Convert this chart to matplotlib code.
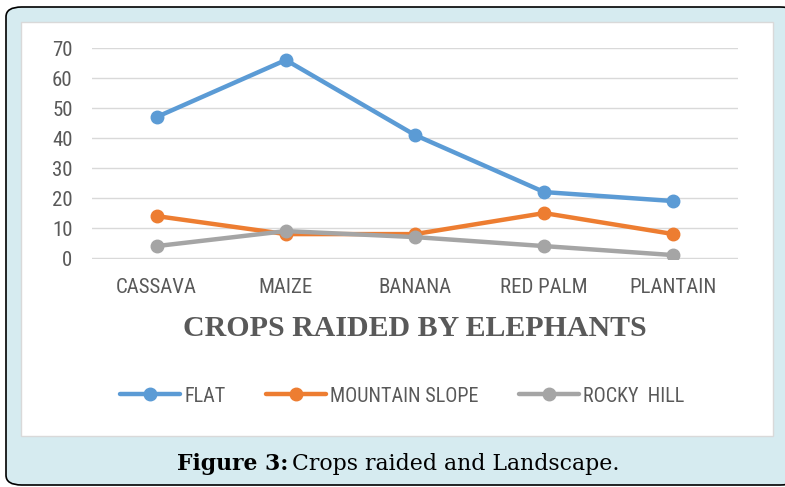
import matplotlib.pyplot as plt
from matplotlib import font_manager
from matplotlib.patches import FancyBboxPatch, Rectangle

crops = ['CASSAVA', 'MAIZE', 'BANANA', 'RED PALM', 'PLANTAIN']
flat = [47, 66, 41, 22, 19]
mountain_slope = [14, 8, 8, 15, 8]
rocky_hill = [4, 9, 7, 4, 1]
y_ticks = [0, 10, 20, 30, 40, 50, 60, 70]

# narrow sans for axis text, whichever is installed
installed = {f.name for f in font_manager.fontManager.ttflist}
narrow = [n for n in ['Liberation Sans Narrow', 'Roboto Condensed', 'Open Sans Condensed',
                      'DejaVu Sans Condensed', 'Noto Sans Condensed', 'Inter', 'Lato']
          if n in installed]
sans = narrow[:1] + ['DejaVu Sans']
serif = ['Liberation Serif', 'DejaVu Serif']
text_grey = '#595959'

fig = plt.figure(figsize=(7.85, 4.87), dpi=100)
fig.patch.set_facecolor('white')

# light blue frame with rounded black border, white chart panel inside
fig.patches.append(FancyBboxPatch((6 / 785, 2 / 487), 790 / 785, 478 / 487,
                                  boxstyle='round,pad=0,rounding_size=0.02',
                                  transform=fig.transFigure, facecolor='#d6ebf0',
                                  edgecolor='black', linewidth=1.2, zorder=0))
fig.patches.append(Rectangle((21 / 785, 1 - 436 / 487), 752 / 785, 414 / 487,
                             transform=fig.transFigure, facecolor='white',
                             edgecolor='#d9d9d9', linewidth=1.0, zorder=1))

ax = fig.add_axes([92 / 785, 1 - 259 / 487, 646 / 785, 211 / 487])
ax.set_facecolor('none')
ax.set_zorder(2)

x = range(len(crops))
series = [(flat, '#5b9bd5', 'FLAT'),
          (mountain_slope, '#ed7d31', 'MOUNTAIN SLOPE'),
          (rocky_hill, '#a5a5a5', 'ROCKY  HILL')]
for values, color, label in series:
    ax.plot(x, values, color=color, linewidth=3.2, marker='o', markersize=9,
            label=label, solid_capstyle='round')

ax.set_xlim(-0.5, len(crops) - 0.5)
ax.set_ylim(-0.3, 70)
ax.set_yticks(y_ticks)
ax.set_xticks(list(x))
ax.set_xticklabels(crops)
ax.grid(axis='y', color='#d9d9d9', linewidth=1.0)
ax.set_axisbelow(True)
for side in ['top', 'right', 'left', 'bottom']:
    ax.spines[side].set_visible(False)
ax.tick_params(length=0, labelcolor=text_grey, labelsize=15)
ax.tick_params(axis='x', pad=13.5)
ax.tick_params(axis='y', pad=14)
for lbl in ax.get_xticklabels() + ax.get_yticklabels():
    lbl.set_family(sans)

fig.text(415 / 785, 1 - 329 / 487, 'CROPS RAIDED BY ELEPHANTS', ha='center',
         va='center', family=serif, fontweight='bold', fontsize=21.5,
         color=text_grey)

handles, labels = ax.get_legend_handles_labels()
fig.legend(handles, labels, loc='center', bbox_to_anchor=(402 / 785, 1 - 396 / 487),
           ncol=3, frameon=False, handlelength=3.0, columnspacing=2.0,
           handletextpad=0.2, prop={'family': sans, 'size': 14.5},
           labelcolor=text_grey)

cap_serif = ['DejaVu Serif']
fig.text(288 / 785, 1 - 464 / 487, 'Figure 3:', ha='right', va='center',
         family=cap_serif, fontweight='bold', fontsize=15.8)
fig.text(292 / 785, 1 - 464 / 487, 'Crops raided and Landscape.', ha='left',
         va='center', family=cap_serif, fontsize=15.8)

fig.savefig('out.png', dpi=100)
